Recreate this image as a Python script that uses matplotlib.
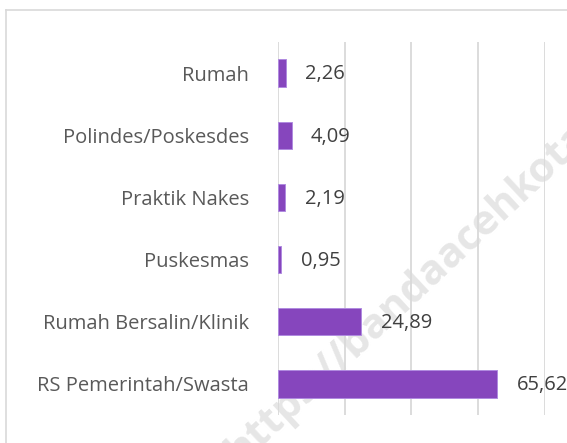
import matplotlib.pyplot as plt
from matplotlib.lines import Line2D

categories = ['RS Pemerintah/Swasta', 'Rumah Bersalin/Klinik', 'Puskesmas',
              'Praktik Nakes', 'Polindes/Poskesdes', 'Rumah']
values = [65.62, 24.89, 0.95, 2.19, 4.09, 2.26]
value_labels = ['65,62', '24,89', '0,95', '2,19', '4,09', '2,26']

plt.rcParams['font.family'] = ['Open Sans', 'DejaVu Sans']

fig = plt.figure(figsize=(5.67, 4.43), dpi=100)
W, H = 567.0, 443.0

# chart border (cropped on right and bottom)
fig.add_artist(Line2D([6 / W, 1], [1 - 10 / H, 1 - 10 / H], transform=fig.transFigure,
                      color='#d9d9d9', lw=1.2))
fig.add_artist(Line2D([6 / W, 6 / W], [0, 1 - 10 / H], transform=fig.transFigure,
                      color='#d9d9d9', lw=1.2))

# watermark, under the bars
fig.text(240 / W, -22 / H, 'https://bandaacehkota.go.id', rotation=43,
         rotation_mode='anchor', ha='left', va='baseline', fontsize=30,
         fontweight='bold', color='#e6e6e6', zorder=-1)

ax = fig.add_axes([278 / W, 1 - 415 / H, (545 - 278) / W, (415 - 42) / H])
ax.patch.set_alpha(0)
y = range(len(categories))
ax.barh(y, values, height=0.44, color='#8646bd', edgecolor='#b08be0', linewidth=0.7, zorder=3)

for yi, v, lab in zip(y, values, value_labels):
    ax.annotate(lab, (v, yi), xytext=(14, -1), textcoords='offset points',
                ha='left', va='center', fontsize=14.5, color='#404040', zorder=5)

ax.set_xlim(0, 80)
ax.set_ylim(-0.5, len(categories) - 0.5)
ax.set_xticks([0, 20, 40, 60, 80])
ax.xaxis.grid(True, color='#d9d9d9', lw=1.3, zorder=0)
ax.tick_params(axis='x', length=0, labelbottom=False)
ax.set_yticks(list(y))
ax.set_yticklabels(categories, fontsize=14.5, color='#595959')
ax.tick_params(axis='y', length=0, pad=21)
for s in ax.spines.values():
    s.set_visible(False)

plt.savefig('out.png', dpi=100)
plt.close()
